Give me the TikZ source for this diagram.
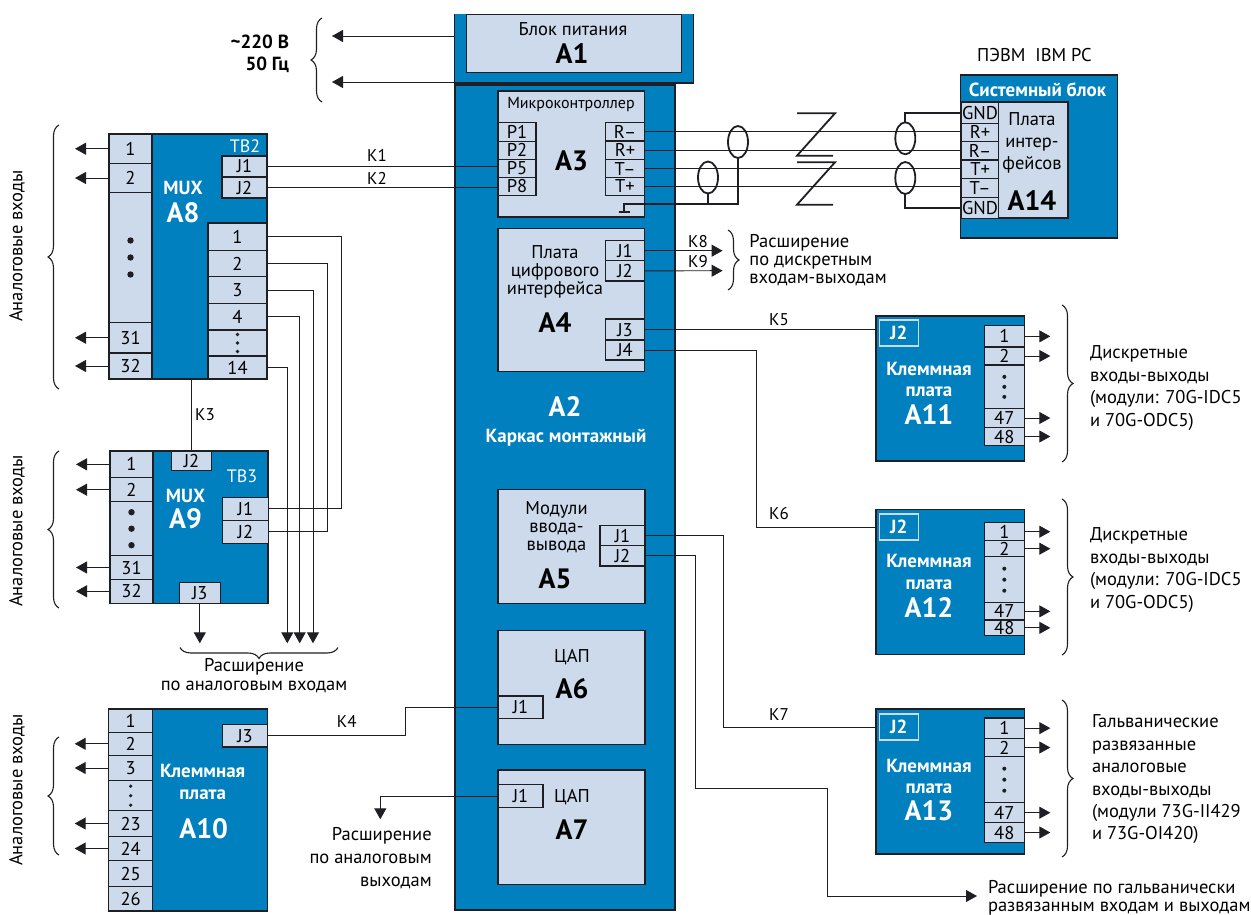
\documentclass[tikz,border=0pt]{standalone}
\usepackage{fontspec}
\setmainfont{PT Sans}
\usepackage{xcolor}
\usepackage{tikz}
\usetikzlibrary{arrows.meta,shapes.geometric,positioning,decorations.pathreplacing}
\definecolor{BoardBlue}{RGB}{0,128,190}
\definecolor{CardLight}{RGB}{204,218,236}
\definecolor{WireDark}{RGB}{30,30,35}

\begin{document}
\begin{tikzpicture} [x=1pt,y=-1pt,>={Triangle[length=11pt,width=12pt]}, text=black,
	   every node/.style={font=\fontsize{18.5}{20}\selectfont,inner sep=0pt,outer sep=0pt},
	   board/.style 2 args = {rectangle, anchor=north west, minimum width=#1, minimum height=#2,
	                          fill=BoardBlue, draw=WireDark, line width=1.6pt},
	   card/.style 2 args = {rectangle, anchor=north west, minimum width=#1, minimum height=#2,
	                         fill=CardLight, draw=WireDark, line width=1.2pt},
	   port/.style 2 args = {card={#1}{#2}, text height=13pt, text depth=0pt},
	   jbox/.style = {rectangle, anchor=north west, minimum width=39pt, minimum height=26pt, draw=CardLight,
	                  line width=1.2pt, text=white, font=\bfseries\fontsize{19}{20}\selectfont},
	   wire/.style = {WireDark, line width=0.95pt},
	   sig/.style = {wire, ->},
	   heavy/.style = {WireDark, line width=1.8pt},
	   shield/.style = {ellipse, draw=WireDark, line width=1.8pt, minimum width=20pt, minimum height=32pt},
	   curly/.style = {WireDark, line width=1.1pt, decorate, decoration={brace,amplitude=11pt}},
	   bigname/.style = {font=\bfseries\fontsize{28}{30}\selectfont},
	   whitename/.style = {bigname, text=white},
	   whitelabel/.style = {font=\bfseries\fontsize{19}{21}\selectfont, text=white},
	   tag/.style = {text=white, font=\fontsize{18}{20}\selectfont},
	   cable/.style = {font=\fontsize{17}{20}\selectfont},
	   note/.style = {font=\fontsize{18.5}{#1}\selectfont, align=left, anchor=west},
	   bulk/.style = {font=\fontsize{18.5}{#1}\selectfont, align=center}]
	\useasboundingbox (0,0) rectangle (1251,915);

	%% Power block
	\node [rectangle, anchor=north west, minimum width=239pt, minimum height=69pt, fill=BoardBlue] (a1frame) at (454.5,14) {};
	\draw [heavy] (a1frame.north west) |- (a1frame.south east) -- (a1frame.north east);
	\node [card={215}{57.5}] (a1) at (466.5,14.7) {};
	\node (a1text) at (573,29) {Блок питания};
	\node [bigname] (a1name) at (572,54) {A1};

	%% Mounting frame
	\node [board={220}{825}, line width=2.4pt] (a2) at (455,85) {};
	\node [whitename] (a2name) at (565,407) {A2};
	\node [whitelabel] (a2text) at (566,438) {Каркас монтажный};

	%% Microcontroller
	\node [card={146.5}{126}] (a3) at (498,91) {};
	\node [font=\fontsize{16}{18}\selectfont] (a3text) at (571,105) {Микроконтроллер};
	\node [bigname] (a3name) at (571.5,161) {A3};
	\foreach \nm/\ty/\h/\lbl in {a3p1/122.7/18.6/P1, a3p2/141.3/18/P2, a3p5/159.3/18.4/P5, a3p8/177.7/17.6/P8}
		\node [port={38}{\h}] (\nm) at (498,\ty) {\lbl};
	\foreach \nm/\ty/\h/\lbl in {a3r1/122.7/18.3/R--, a3r2/141/18.7/R+, a3r3/159.7/18/T--, a3r4/177.7/17.6/T+}
		\node [port={39}{\h}] (\nm) at (605.5,\ty) {\lbl};

	%% Digital interface
	\node [card={146.5}{142.5}] (a4) at (498,228.7) {};
	\node [bulk=18] (a4text) at (555,272) {Плата\\цифрового\\интерфейса};
	\node [bigname] (a4name) at (555,323) {A4};
	\foreach \nm/\ty/\h/\lbl in {a4j1/240.7/20/J1, a4j2/260.7/20.3/J2, a4j3/319/21/J3, a4j4/340/20/J4}
		\node [port={39}{\h}] (\nm) at (605.5,\ty) {\lbl};

	%% Input-output modules
	\node [card={147}{114}] (a5) at (498,489.3) {};
	\node [bulk=18] (a5text) at (556.5,527.5) {Модули\\ввода-\\вывода};
	\node [bigname] (a5name) at (555,578.5) {A5};
	\foreach \nm/\ty/\h/\lbl in {a5j1/525.7/20/J1, a5j2/545.7/20.3/J2}
		\node [port={45}{\h}] (\nm) at (600,\ty) {\lbl};

	%% DAC cards
	\node [card={147}{114}] (a6) at (498,630.3) {};
	\node (a6text) at (572,657) {ЦАП};
	\node [bigname] (a6name) at (572,689) {A6};
	\node [port={45}{22.7}] (a6j1) at (498,696) {J1};
	\node [card={147}{114.3}] (a7) at (498,770) {};
	\node (a7text) at (572,797) {ЦАП};
	\node [bigname] (a7name) at (572,830) {A7};
	\node [port={45}{23}] (a7j1) at (498,784.7) {J1};

	%% PC system unit
	\node (pctext) at (1034.5,55) {ПЭВМ\ \ IBM PC};
	\node [board={157}{162.7}] (a14) at (960.3,75) {};
	\node [whitelabel] (a14head) at (1037.5,90) {Системный блок};
	\node [card={106}{116}, line width=1.8pt] (a14card) at (961.6,102.3) {};
	\node [bulk=22] (a14text) at (1032,143) {Плата\\интер-\\фейсов};
	\node [bigname] (a14name) at (1032,201) {A14};
	\foreach \nm/\ty/\h/\lbl in {a14g1/102.3/21/GND, a14p1/123.3/18.4/R+, a14p2/141.7/18.3/R--, a14p3/160/18.3/T+, a14p4/178.3/19/T--, a14g2/197.3/21/GND}
		\node [port={37}{\h}] (\nm) at (961.6,\ty) {\lbl};

	%% Multiplexer A8
	\node [board={158}{245}] (a8) at (109,134) {};
	\node [tag] (a8tb) at (245,146) {TB2};
	\node [whitelabel] (a8mux) at (183,188) {MUX};
	\node [whitename] (a8name) at (183,213) {A8};
	\foreach \nm/\ty/\h/\lbl in {a8l1/134/29.5/1, a8l2/163.5/29/2, a8ldots/192.5/130/, a8l31/322.5/30.5/31, a8l32/353/26/32}
		\node [port={43}{\h}] (\nm) at (109,\ty) {\lbl};
	\foreach \nm/\ty/\h/\lbl in {a8j1/156/21/J1, a8j2/177/21/J2}
		\node [port={45}{\h}] (\nm) at (222,\ty) {\lbl};
	\foreach \nm/\ty/\h/\lbl in {a8r1/223/27.5/1, a8r2/250.5/26/2, a8r3/276.5/27/3, a8r4/303.5/26.5/4, a8rdots/330/26/, a8r14/356/23/14}
		\node [port={59}{\h}] (\nm) at (208,\ty) {\lbl};

	%% Multiplexer A9
	\node [board={158}{152.3}] (a9) at (110,451) {};
	\node [tag] (a9tb) at (242,476.7) {TB3};
	\node [whitelabel] (a9mux) at (185.5,496) {MUX};
	\node [whitename] (a9name) at (185.5,519) {A9};
	\foreach \nm/\ty/\h/\lbl in {a9l1/451/26.7/1, a9l2/477.7/24/2, a9ldots/501.7/54/, a9l31/555.7/23.6/31, a9l32/579.3/24/32}
		\node [port={43}{\h}] (\nm) at (110,\ty) {\lbl};
	\node [port={40.5}{19.3}] (a9j2top) at (171.3,451) {J2};
	\foreach \nm/\ty/\h/\lbl in {a9j1/497.3/23/J1, a9j2/520.3/23/J2}
		\node [port={45.5}{\h}] (\nm) at (222.7,\ty) {\lbl};
	\node [port={41}{20.6}] (a9j3) at (179.3,582.7) {J3};

	%% Terminal board A10
	\node [board={158.6}{201.7}] (a10) at (108.7,709) {};
	\node [whitelabel] (a10text) at (202.7,771) {Клеммная};
	\node [whitelabel] (a10text2) at (202.7,794.5) {плата};
	\node [whitename] (a10name) at (203.7,828.5) {A10};
	\foreach \nm/\ty/\h/\lbl in {a10l1/709/23.3/1, a10l2/732.3/23/2, a10l3/755.3/25.4/3, a10ldots/780.7/30/, a10l23/810.7/25.6/23, a10l24/836.3/24.4/24, a10l25/860.7/26/25, a10l26/886.7/24/26}
		\node [port={44}{\h}] (\nm) at (108.7,\ty) {\lbl};
	\node [port={44.6}{22.7}] (a10j3) at (222.7,724.3) {J3};

	%% Terminal boards A11, A12, A13
	\node [board={148.3}{145}] (a11) at (876,315.7) {};
	\node [jbox] (a11j2) at (879.3,320) {J2};
	\node [whitelabel] (a11text) at (929,368.5) {Клеммная};
	\node [whitelabel] (a11text2) at (929,392) {плата};
	\node [whitename] (a11name) at (929,415) {A11};
	\foreach \nm/\ty/\h/\lbl in {a11p1/325.7/21.3/1, a11p2/347/18/2, a11dots/365/43.7/, a11p47/408.7/18.6/47, a11p48/427.3/18.4/48}
		\node [port={40}{\h}] (\nm) at (984.3,\ty) {\lbl};

	\node [board={148.3}{145}] (a12) at (876,509.3) {};
	\node [jbox] (a12j2) at (879.3,514) {J2};
	\node [whitelabel] (a12text) at (929,561) {Клеммная};
	\node [whitelabel] (a12text2) at (929,584.5) {плата};
	\node [whitename] (a12name) at (929,607) {A12};
	\foreach \nm/\ty/\h/\lbl in {a12p1/522.7/18/1, a12p2/540.7/16/2, a12dots/556.7/46/, a12p47/602.7/17.3/47, a12p48/620/15.7/48}
		\node [port={40}{\h}] (\nm) at (984.3,\ty) {\lbl};

	\node [board={148.3}{145}] (a13) at (876,709) {};
	\node [jbox] (a13j2) at (879.3,714) {J2};
	\node [whitelabel] (a13text) at (929,765.5) {Клеммная};
	\node [whitelabel] (a13text2) at (929,789) {плата};
	\node [whitename] (a13name) at (929,811) {A13};
	\foreach \nm/\ty/\h/\lbl in {a13p1/718/20.3/1, a13p2/738.3/18.4/2, a13dots/756.7/46/, a13p47/802.7/20/47, a13p48/822.7/19.6/48}
		\node [port={40}{\h}] (\nm) at (984.3,\ty) {\lbl};

	%% Column dots
	\foreach \p/\s/\r in {a8ldots/17/3.2, a9ldots/16.5/3.2, a10ldots/9.5/1.8, a8rdots/8.5/1.8, a11dots/10/2, a12dots/11/2, a13dots/11/2}
		\foreach \d in {-1,0,1}
			\fill [WireDark] ([yshift=\d*\s pt]\p.center) circle (\r pt);

	%% Free ends of the connectors
	\coordinate (pw1) at (332,36);
	\coordinate (pw2) at (332,82);
	\coordinate (k8tip) at (722.6,250.7);
	\coordinate (k9tip) at (722.6,270.7);
	\coordinate (expa) at (199.7,643.3);
	\coordinate (expdac) at (380.3,819.3);
	\coordinate (expgal) at (977,896);
	\coordinate (gala) at (695,788.3);
	\coordinate (galb) at (827,788.3);
	\coordinate (bus1) at (341.7,238);
	\coordinate (bus2) at (327,264);
	\coordinate (bus3) at (313,291);
	\coordinate (bus4) at (299.7,317);
	\coordinate (bus14) at (287.3,367);
	\coordinate (k4bend) at (405.7,735);
	\coordinate (k6bend) at (756,346);
	\coordinate (k7bend) at (723.3,536);
	\coordinate (gnd) at (624,203.7);
	\coordinate (gndfoot) at (624,212);

	%% Paths
	\draw [sig] (pw1 -| a1frame.west) -- (pw1);
	\draw [sig] (pw2 -| a1frame.west) -- (pw2);
	\foreach \p in {a8l1,a8l2,a8l31,a8l32,a9l1,a9l2,a9l31,a9l32,a10l2,a10l3,a10l23,a10l24} {
		\coordinate [left=34pt of \p.west] (\p tip);
		\draw [sig] (\p.west) -- (\p tip);
	}
	\foreach \p in {a11p1,a11p2,a11p47,a11p48,a12p1,a12p2,a12p47,a12p48,a13p1,a13p2,a13p47,a13p48} {
		\coordinate [right=26pt of \p.east] (\p tip);
		\draw [sig] (\p.east) -- (\p tip);
	}
	\draw [wire] (a8j1.east) -- (a8j1.east -| a3p5.west);
	\draw [wire] (a8j2.east) -- (a8j2.east -| a3p8.west);
	\draw [wire] (a8.south -| a9j2top.north) -- (a9j2top.north);
	\draw [wire] (a8r1.east) -- (a8r1.east -| bus1) |- (a9j1.east);
	\draw [wire] (a8r2.east) -- (a8r2.east -| bus2) |- (a9j2.east);
	\draw [sig] (a8r3.east) -| (bus3 |- expa);
	\draw [sig] (a8r4.east) -| (bus4 |- expa);
	\draw [sig] (a8r14.east) -| (bus14 |- expa);
	\draw [sig] (a9j3.south) -- (a9j3.south |- expa);
	\draw [wire] (a10j3.east) -- (a10j3.east -| k4bend) |- (a6j1.west);
	\draw [sig] (a7j1.west) -| (expdac);
	\foreach \a/\b in {a3r1/a14p1, a3r2/a14p2, a3r3/a14p3, a3r4/a14p4}
		\draw [wire] (\a.east) -- (\a.east -| \b.west);
	\draw [sig] (a4j1.east) -- (k8tip);
	\draw [sig] (a4j2.east) -- (k9tip);
	\draw [wire] (a4j3.east) -- (a4j3.east -| a11.west);
	\draw [wire] (a4j4.east) -- (a4j4.east -| k6bend) |- (a12.west |- a12j2.center);
	\draw [wire] (a5j1.east) -- (a5j1.east -| k7bend) |- (a13.west |- a13j2.center);
	\draw [sig] (a5j2.east) -| (gala) -- (galb) |- (expgal);

	%% Cable shields
	\node [shield] (sh1) at (738,142) {};
	\node [shield] (sh2) at (708,177.5) {};
	\node [shield] (sh3) at (905.3,138.3) {};
	\node [shield] (sh4) at (905.3,178) {};
	\draw [heavy] (sh1.south) |- (gnd) -- (gndfoot);
	\draw [heavy] (sh2.south) -- (sh2.south |- gnd);
	\draw [heavy] ([xshift=-5.5pt]gndfoot) -- ([xshift=5.5pt]gndfoot);
	\draw [heavy] (sh3.north) |- (a14g1.west);
	\draw [heavy] (sh4.south) |- (a14g2.west);

	%% Line breaks
	\draw [heavy] (797,113.3) -- (835,113.3) -- (797,155.7) -- (833,155.7);
	\draw [heavy] (797,162.3) -- (835,162.3) -- (797,204.7) -- (833,204.7);

	%% Braces
	\draw [curly] (322,102) -- (322,18);
	\draw [curly] (59,389) -- (59,125);
	\draw [curly] (59,608) -- (59,451);
	\draw [curly] (59,855) -- (59,737);
	\draw [curly] (338,647.5) -- (180,647.5);
	\draw [curly] (728,230) -- (728,290);
	\draw [curly] (1062,305) -- (1062,462);
	\draw [curly] (1062,499) -- (1062,655);
	\draw [curly] (1062,700) -- (1062,857);

	%% Labels
	\node [font=\bfseries\fontsize{19}{22}\selectfont, align=right, anchor=east] (mains) at (289,54) {\textasciitilde220 В\\50 Гц};
	\node [cable] (k1) at (377,155.5) {K1};
	\node [cable] (k2) at (377,178.5) {K2};
	\node [cable] (k3) at (205,415) {K3};
	\node [cable] (k4) at (346.7,721.7) {K4};
	\node [cable] (k5) at (779,320) {K5};
	\node [cable] (k6) at (779,514) {K6};
	\node [cable] (k7) at (779,715) {K7};
	\node [cable] (k8) at (698,242) {K8};
	\node [cable] (k9) at (698,262) {K9};
	\node [rotate=90] (ain1) at (17,246) {Аналоговые входы};
	\node [rotate=90] (ain2) at (17,531) {Аналоговые входы};
	\node [rotate=90] (ain3) at (17,790) {Аналоговые входы};
	\node [bulk=19] (expatext) at (254,676) {Расширение\\по аналоговым входам};
	\node [font=\fontsize{18.5}{23}\selectfont, align=right, anchor=east] (expdactext) at (431.7,858) {Расширение\\по аналоговым\\выходам};
	\node [note=18] (expdig) at (749.4,260) {Расширение\\по дискретным\\входам-выходам};
	\node [note=22.7] (a11note) at (1090,388) {Дискретные\\входы-выходы\\(модули: 70G-IDC5\\и 70G-ODC5)};
	\node [note=22.7] (a12note) at (1090,570) {Дискретные\\входы-выходы\\(модули: 70G-IDC5\\и 70G-ODC5)};
	\node [note=22.4] (a13note) at (1092,779.5) {Гальванические\\развязанные\\аналоговые\\входы-выходы\\(модули 73G-II429\\и 73G-OI420)};
	\node [note=18] (expgaltext) at (988,897.5) {Расширение по гальванически\\развязанным входам и выходам};
\end{tikzpicture}
\end{document}
